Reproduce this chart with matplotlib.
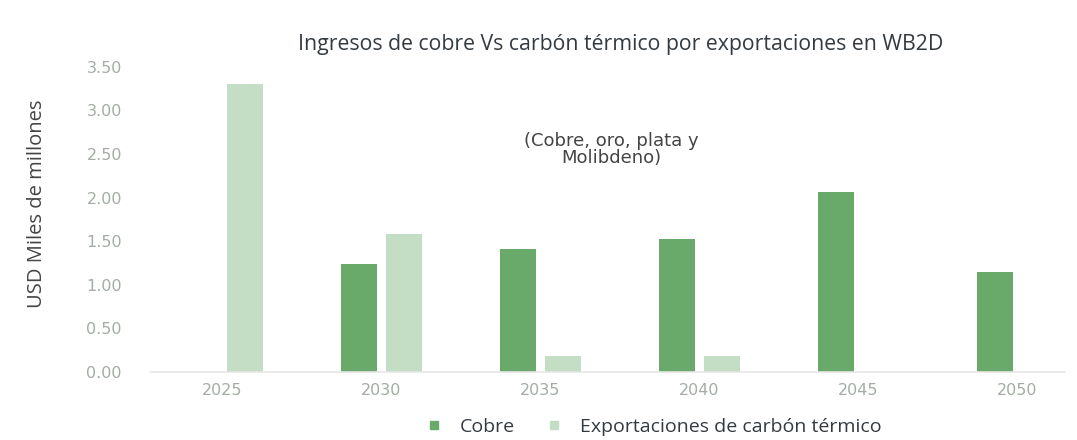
import numpy as np
import matplotlib.pyplot as plt
from matplotlib.lines import Line2D

# Data
years = ['2025', '2030', '2035', '2040', '2045', '2050']
cobre = [0.0, 1.24, 1.41, 1.53, 2.07, 1.15]
carbon = [3.30, 1.58, 0.18, 0.18, 0.0, 0.0]
y_ticks = [0.0, 0.5, 1.0, 1.5, 2.0, 2.5, 3.0, 3.5]

col_cobre = '#69aa6b'
col_carbon = '#c4ddc5'

fig = plt.figure(figsize=(10.77, 4.40), dpi=100)
ax = fig.add_axes([0.139, 0.1545, 0.85, 0.6935])

x = np.arange(len(years))
w = 0.226
off = 0.1415
ax.bar(x - off, cobre, width=w, color=col_cobre, label='Cobre')
ax.bar(x + off, carbon, width=w, color=col_carbon, label='Exportaciones de carbón térmico')

ax.set_xlim(-0.456, 5.30)
ax.set_ylim(0, 3.5)
ax.set_yticks(y_ticks)
ax.set_yticklabels([f'{v:.2f}' for v in y_ticks])
ax.set_xticks(x)
ax.set_xticklabels(years)
ax.tick_params(axis='both', length=0, labelsize=11.5, colors='#a3ada3')
ax.tick_params(axis='y', pad=20)
ax.tick_params(axis='x', pad=8)

for s in ['top', 'right', 'left']:
    ax.spines[s].set_visible(False)
ax.spines['bottom'].set_color('#e6e6e6')
ax.spines['bottom'].set_linewidth(1.2)

fig.text(0.034, 0.537, 'USD Miles de millones', rotation=90, ha='center', va='center',
         fontsize=14.5, color='#444444', family='Open Sans')
fig.text(0.576, 0.886, 'Ingresos de cobre Vs carbón térmico por exportaciones en WB2D',
         ha='center', va='baseline', fontsize=15.3, color='#333a40', family='Open Sans')
fig.text(0.568, 0.661, '(Cobre, oro, plata y\nMolibdeno)', ha='center', va='center',
         fontsize=13, color='#444444', linespacing=0.95)

handles = [Line2D([], [], marker='s', linestyle='', markersize=6, color=col_cobre),
           Line2D([], [], marker='s', linestyle='', markersize=6, color=col_carbon)]
fig.legend(handles, ['Cobre', 'Exportaciones de carbón térmico'], loc='center',
           bbox_to_anchor=(0.606, 0.03), ncol=2, frameon=False,
           handletextpad=0.84, columnspacing=1.5, handlelength=1.0,
           borderpad=0.2, prop={'family': 'Open Sans', 'size': 14})
for t in fig.legends[0].get_texts():
    t.set_color('#333a40')

fig.savefig('out.png', dpi=100)
